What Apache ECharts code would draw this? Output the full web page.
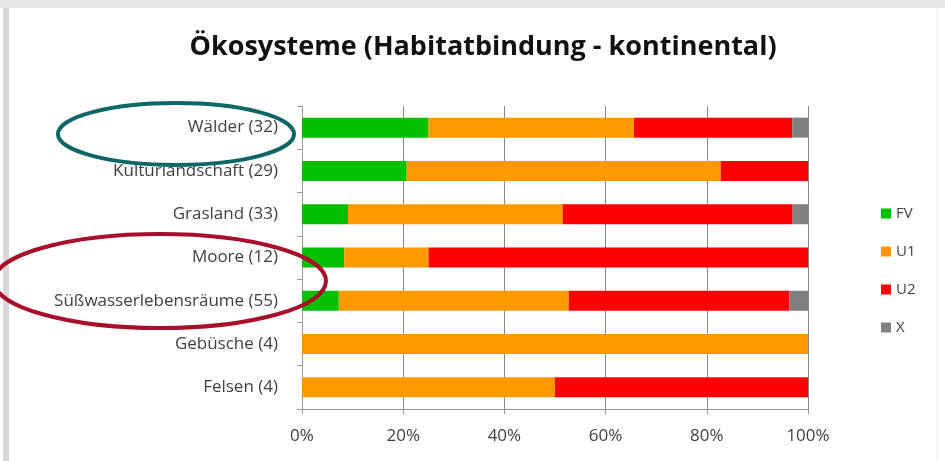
<!DOCTYPE html>
<html>
<head>
<meta charset="utf-8">
<script src="https://cdn.jsdelivr.net/npm/echarts@6/dist/echarts.min.js"></script>
<style>
  html, body { margin: 0; padding: 0; background: #fff; }
  #chart { width: 945px; height: 461px; }
</style>
</head>
<body>
<div id="chart"></div>
<script>
  // Kategorien (von oben nach unten) und Anzahl je Bewertung
  var categories = ['Wälder (32)', 'Kulturlandschaft (29)', 'Grasland (33)', 'Moore (12)',
                    'Süßwasserlebensräume (55)', 'Gebüsche (4)', 'Felsen (4)'];
  var fv = [8, 6, 3, 1, 4, 0, 0];
  var u1 = [13, 18, 14, 2, 25, 4, 2];
  var u2 = [10, 5, 15, 9, 24, 0, 2];
  var x  = [1, 0, 1, 0, 2, 0, 0];
  var tickLabels = ['0%', '20%', '40%', '60%', '80%', '100%'];

  var totals = categories.map(function (c, i) { return fv[i] + u1[i] + u2[i] + x[i]; });
  function pct(arr) {
    return arr.map(function (v, i) { return v / totals[i] * 100; });
  }

  var chart = echarts.init(document.getElementById('chart'));
  var font = 'Open Sans';

  function bar(name, data, color) {
    return {
      name: name,
      type: 'bar',
      stack: 'all',
      barWidth: 20,
      data: pct(data),
      itemStyle: { color: color }
    };
  }

  var option = {
    backgroundColor: '#fff',
    animation: false,
    title: {
      text: 'Ökosysteme (Habitatbindung - kontinental)',
      left: 478,
      textAlign: 'center',
      top: 29,
      textStyle: { fontFamily: font, fontSize: 27, fontWeight: 'bold', color: '#111' }
    },
    legend: {
      orient: 'vertical',
      left: 876,
      top: 201,
      itemWidth: 10,
      itemHeight: 10,
      itemGap: 23,
      icon: 'rect',
      textStyle: { fontFamily: font, fontSize: 15, color: '#404040' },
      data: ['FV', 'U1', 'U2', 'X']
    },
    grid: { left: 302, right: 137, top: 106, bottom: 52 },
    xAxis: {
      type: 'value',
      min: 0,
      max: 100,
      interval: 20,
      axisLine: { show: true, lineStyle: { color: '#999' } },
      axisTick: { show: true, length: 5, lineStyle: { color: '#999' } },
      splitLine: { show: true, lineStyle: { color: '#888', width: 1 } },
      axisLabel: {
        fontFamily: font, fontSize: 17, color: '#404040', margin: 19,
        formatter: function (v) { return tickLabels[Math.round(v / 20)]; }
      }
    },
    yAxis: {
      type: 'category',
      inverse: true,
      data: categories,
      axisLine: { show: true, lineStyle: { color: '#999' } },
      axisTick: { show: true, length: 5, lineStyle: { color: '#999' } },
      axisLabel: { fontFamily: font, fontSize: 17, color: '#404040', margin: 24 }
    },
    series: [
      bar('FV', fv, '#00c000'),
      bar('U1', u1, '#ff9900'),
      bar('U2', u2, '#ff0000'),
      bar('X', x, '#808080')
    ],
    graphic: [
      { type: 'rect', shape: { x: 0, y: 0, width: 945, height: 8 }, style: { fill: '#e6e6e6' }, silent: true },
      { type: 'rect', shape: { x: 3, y: 8, width: 6, height: 453 }, style: { fill: '#d8d8d8' }, silent: true },
      { type: 'line', shape: { x1: 937, y1: 8, x2: 937, y2: 461 }, style: { stroke: '#eee', lineWidth: 1 }, silent: true },
      { type: 'ellipse', shape: { cx: 176, cy: 134, rx: 118, ry: 31 },
        style: { fill: 'none', stroke: '#0f6666', lineWidth: 4 }, silent: true, z: 100 },
      { type: 'ellipse', shape: { cx: 160, cy: 281, rx: 166, ry: 47 },
        style: { fill: 'none', stroke: '#a8102a', lineWidth: 4 }, silent: true, z: 100 }
    ]
  };

  chart.setOption(option);
</script>
</body>
</html>
